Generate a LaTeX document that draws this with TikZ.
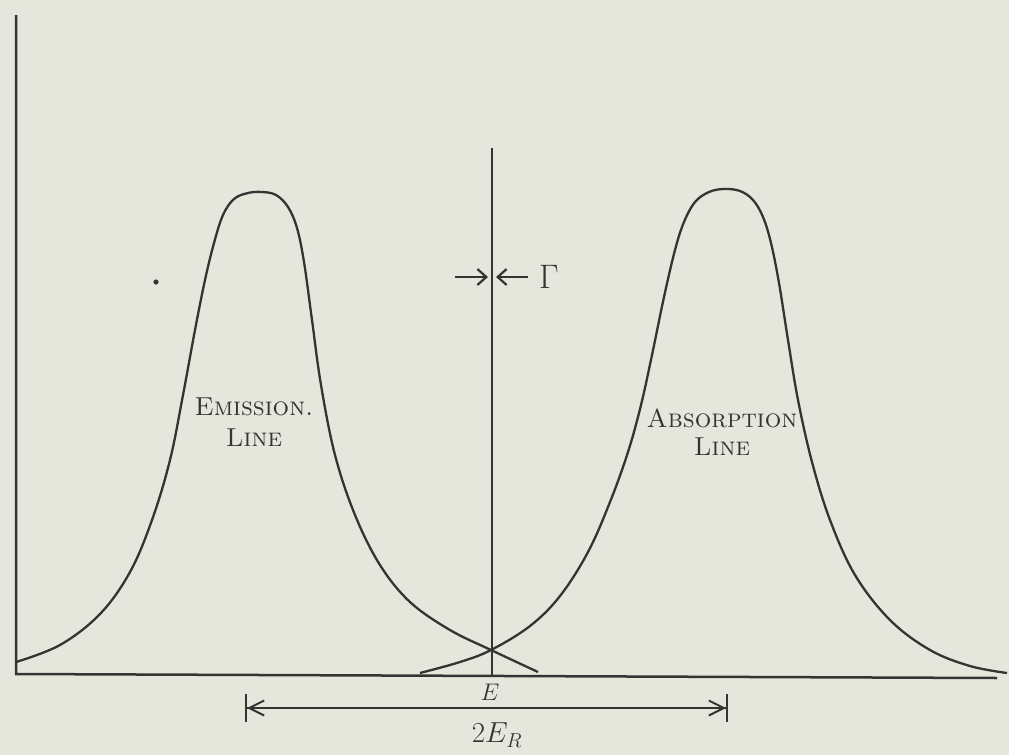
\RequirePackage{fix-cm}
\documentclass[tikz,border=0pt]{standalone}
\usepackage{tikz}
\usetikzlibrary{arrows.meta,positioning}
\definecolor{paper}{RGB}{229,231,221}
\definecolor{ink}{RGB}{52,52,50}

\begin{document}
\begin{tikzpicture}[
  x=1pt, y=-1pt,
  axis/.style={ink, line width=2.5pt},
  curve/.style={ink, line width=2.3pt, smooth, tension=0.6},
  lbl/.style={text=ink, font=\fontsize{26}{30}\selectfont\scshape, inner sep=0pt},
  sym/.style={text=ink, inner sep=0pt},
  gap/.style={ink, line width=2.3pt, -{Straight Barb[length=9pt,width=16pt,line width=2.2pt]}},
  span/.style={ink, line width=2pt,
    {Bar[width=28pt]Straight Barb[length=15pt,width=15pt]}-{Straight Barb[length=15pt,width=15pt]Bar[width=28pt]}}
]
% paper
\fill[paper] (0,0) rectangle (1009,755);
\useasboundingbox (0,0) rectangle (1009,755);

% axes
\coordinate (origin) at (16,674);
\draw[axis] (16,15) -- (origin) -- (997,678);

% centre line at E
\coordinate (etop) at (492,148);
\coordinate (ebot) at (492,675);
\draw[ink, line width=2.3pt] (etop) -- (ebot);

% emission line
\draw[curve] plot coordinates {(16,662) (60,645) (100,614) (130,572) (152,520)
  (170,460) (183,395) (195,330) (205,280) (214,243) (223,215) (234,199)
  (248,193) (262,192) (276,195) (288,207) (297,228) (304,262) (312,320)
  (321,385) (335,455) (355,515) (380,565) (410,602) (450,630) (491,650)
  (538,672)};

% absorption line
\draw[curve] plot coordinates {(420,673) (460,662) (491,650) (530,626)
  (560,596) (588,552) (610,502) (628,452) (641,405) (652,355) (664,297)
  (675,250) (684,222) (695,202) (709,192) (724,189) (740,191) (753,200)
  (763,217) (771,243) (779,283) (788,340) (798,400) (812,462) (830,520)
  (855,575) (890,620) (930,650) (970,666) (1007,673)};

% line width Gamma
\coordinate (gl) at (455,277);
\coordinate (gr) at (528,277);
\draw[gap] (gl) -- (488,277);
\draw[gap] (gr) -- (496,277);
\node[sym, font=\fontsize{34}{38}\selectfont, right=11pt of gr] (gam) {$\Gamma$};

% labels
\node[lbl] (em) at (254,407) {Emission.};
\node[lbl, below=12pt of em] (emline) {Line};
\node[lbl] (ab) at (722,418) {Absorption};
\node[lbl, below=10pt of ab] (abline) {Line};

\node[sym, font=\fontsize{24}{28}\selectfont] (e) at (490,692) {$E$};

% recoil shift 2E_R
\coordinate (sl) at (245,708);
\coordinate (sr) at (728,708);
\draw[span] (sl) -- (sr);
\node[sym, font=\fontsize{29}{33}\selectfont] (er) at (497,735) {$2E_R$};

% stray dot
\fill[ink] (156,282) circle (2.6pt);
\end{tikzpicture}
\end{document}
